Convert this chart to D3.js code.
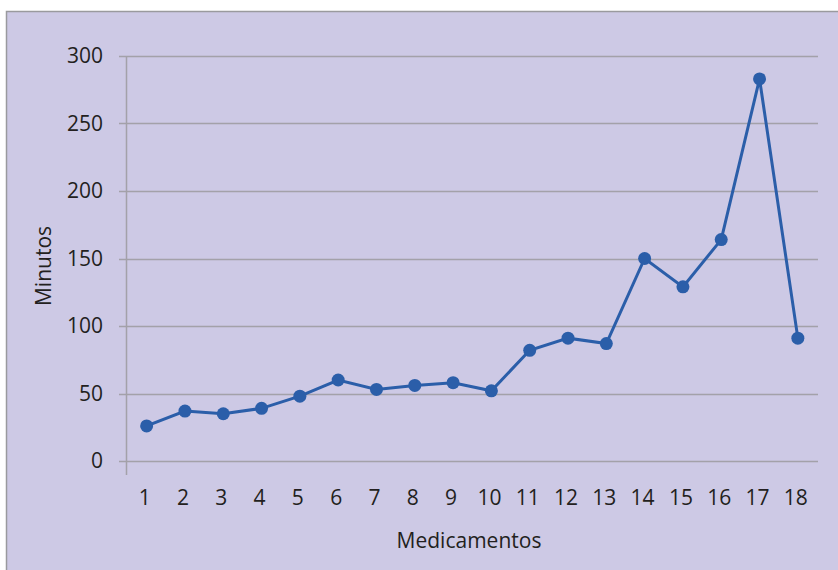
<!DOCTYPE html>
<html>
<head>
<meta charset="utf-8">
<script src="https://cdn.jsdelivr.net/npm/d3@7"></script>
<style>
  html, body { margin: 0; padding: 0; background: #ffffff; }
  svg { display: block; font-family: "Open Sans", "DejaVu Sans", sans-serif; }
</style>
</head>
<body>
<svg id="chart" width="838" height="570"></svg>
<script>
// Minutes per medication
const categories = ["1","2","3","4","5","6","7","8","9","10","11","12","13","14","15","16","17","18"];
const minutos = [26, 37, 35, 39, 48, 60, 53, 56, 58, 52, 82, 91, 87, 150, 129, 164, 283, 91];
const yTicks = [0, 50, 100, 150, 200, 250, 300];

const svg = d3.select("#chart");
const W = 838, H = 570;
const textColor = "#231f20";
const fontSize = 21;

// panel background
svg.append("rect")
  .attr("x", 6.5).attr("y", 11.5)
  .attr("width", W).attr("height", H)
  .attr("fill", "#cdc9e5")
  .attr("stroke", "#9a9a9e")
  .attr("stroke-width", 1.5);

const plot = { left: 127.5, right: 817, top: 56, bottom: 461 };

const x = d3.scaleBand()
  .domain(categories)
  .range([plot.left, plot.right])
  .padding(0);

const y = d3.scaleLinear()
  .domain([0, 300])
  .range([plot.bottom, plot.top]);

const cx = d => x(d) + x.bandwidth() / 2;

// horizontal gridlines
svg.append("g")
  .selectAll("line")
  .data(yTicks)
  .join("line")
  .attr("x1", 119).attr("x2", 818)
  .attr("y1", d => Math.round(y(d)) + 0.5)
  .attr("y2", d => Math.round(y(d)) + 0.5)
  .attr("stroke", "#a3a1a9")
  .attr("stroke-width", 1.5);

// vertical axis line
svg.append("line")
  .attr("x1", 126.5).attr("x2", 126.5)
  .attr("y1", plot.top + 1).attr("y2", 475)
  .attr("stroke", "#a3a1a9")
  .attr("stroke-width", 1.5);

// y tick labels
svg.append("g")
  .selectAll("text")
  .data(yTicks)
  .join("text")
  .attr("x", 103)
  .attr("y", d => y(d))
  .attr("dy", "0.35em")
  .attr("text-anchor", "end")
  .attr("font-size", fontSize)
  .attr("font-weight", 500)
  .attr("fill", textColor)
  .text(d => d);

// x tick labels
svg.append("g")
  .selectAll("text")
  .data(categories)
  .join("text")
  .attr("x", d => cx(d) - 2)
  .attr("y", 505)
  .attr("text-anchor", "middle")
  .attr("font-size", fontSize)
  .attr("font-weight", 500)
  .attr("fill", textColor)
  .text(d => d);

// axis titles
svg.append("text")
  .attr("x", 469).attr("y", 548)
  .attr("text-anchor", "middle")
  .attr("font-size", fontSize)
  .attr("font-weight", 500)
  .attr("fill", textColor)
  .text("Medicamentos");

svg.append("text")
  .attr("transform", "translate(51,266) rotate(-90)")
  .attr("text-anchor", "middle")
  .attr("font-size", fontSize)
  .attr("font-weight", 500)
  .attr("fill", textColor)
  .text("Minutos");

// series line
const line = d3.line()
  .x((d, i) => cx(categories[i]))
  .y(d => y(d));

svg.append("path")
  .datum(minutos)
  .attr("d", line)
  .attr("fill", "none")
  .attr("stroke", "#2b5ea9")
  .attr("stroke-width", 3);

// markers
svg.append("g")
  .selectAll("circle")
  .data(minutos)
  .join("circle")
  .attr("cx", (d, i) => cx(categories[i]))
  .attr("cy", d => y(d))
  .attr("r", 6.5)
  .attr("fill", "#2b5ea9");
</script>
</body>
</html>
